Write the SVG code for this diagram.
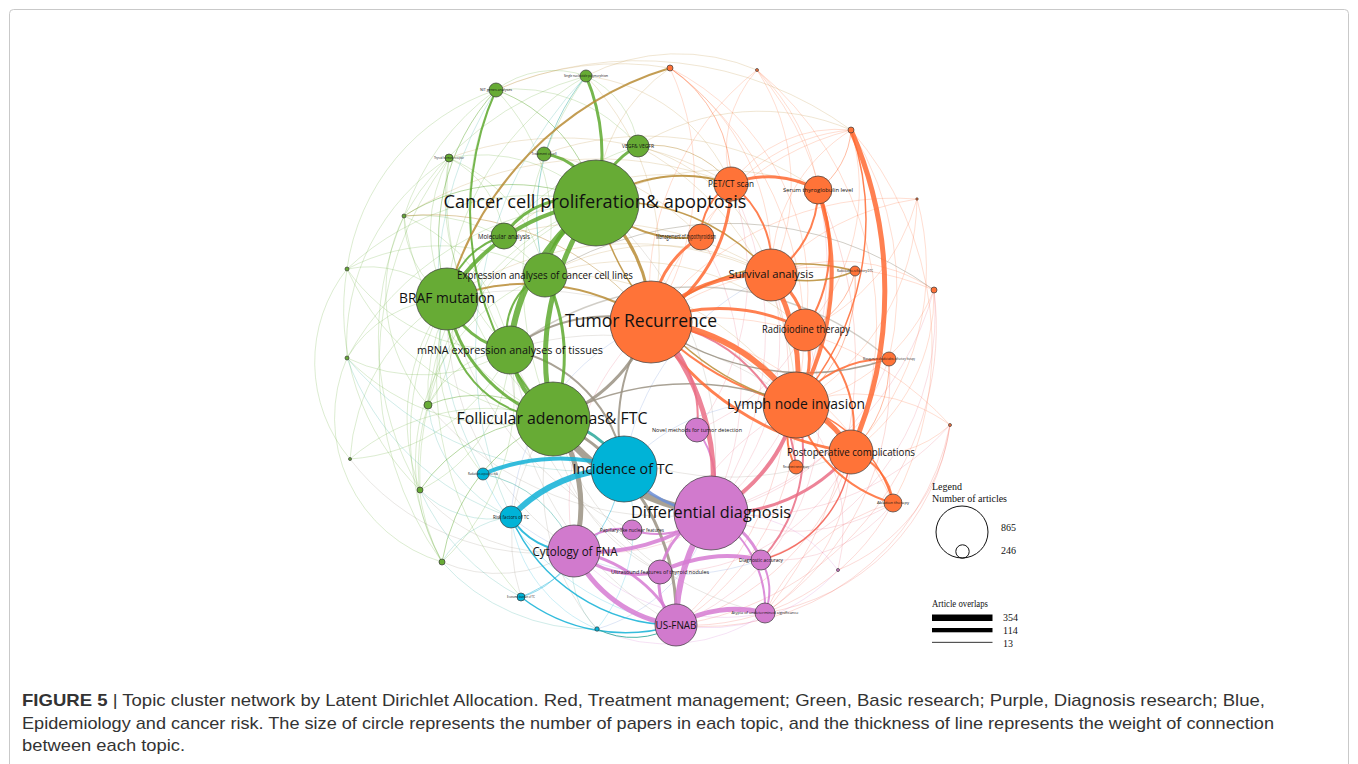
<svg xmlns="http://www.w3.org/2000/svg" width="1358" height="764" viewBox="0 0 1358 764">
<style>
.e path{fill:none;stroke-linecap:round;stroke-opacity:.85}
.g{stroke:#5ea92f}.o{stroke:#ff6a33}.p{stroke:#d67bd2}.b{stroke:#10b0d6}.y{stroke:#9a9282}.n{stroke:#b98c35}.k{stroke:#ea6e86}.t{stroke:#2aa79a}.r{stroke:#f25a4e}.l{stroke:#6b8fd8}
.w1{stroke-width:1}.w15{stroke-width:1.5}.w2{stroke-width:2}.w3{stroke-width:3}.w4{stroke-width:4}.w5{stroke-width:5}.w6{stroke-width:6}.w7{stroke-width:7}
.e path.a{stroke-opacity:.22}.e path.c{stroke-opacity:.45}
.nd circle{stroke:#3a3a3a;stroke-width:.7}
.ng{fill:#67ab35}.no{fill:#ff7338}.np{fill:#d17acd}.nb{fill:#00b3d7}
.lb{font-family:"Open Sans","Liberation Sans",sans-serif;fill:#111;text-anchor:middle}
.lg{font-family:"Liberation Serif","Times New Roman",serif;font-size:10px;fill:#111}
.cap{font-family:"Liberation Sans",Arial,sans-serif;font-size:17px;fill:#333}
</style>
<rect width="1358" height="764" fill="#fff"/>
<rect x="9.5" y="9.5" width="1339" height="770" rx="4" fill="none" stroke="#c9c9c9"/>
<g id="connectors" class="e">
<!-- faint green periphery -->
<path class="g w1 a" d="M449 158A160 160 0 0 1 596 203"/>
<path class="g w1 a" d="M449 158A150 150 0 0 0 447 299"/>
<path class="g w1 a" d="M449 158A160 160 0 0 1 545 275"/>
<path class="g w1 a" d="M449 158A210 210 0 0 0 510 350"/>
<path class="g w1 a" d="M449 158A290 290 0 0 0 553 419"/>
<path class="g w1 a" d="M449 158A100 100 0 0 1 504 236"/>
<path class="g w1 c" d="M404 216A200 200 0 0 1 596 203"/>
<path class="g w1 a" d="M404 216A100 100 0 0 0 447 299"/>
<path class="g w1 a" d="M404 216A180 180 0 0 1 510 350"/>
<path class="g w1 a" d="M404 216A260 260 0 0 0 553 419"/>
<path class="g w1 a" d="M404 216A160 160 0 0 1 545 275"/>
<path class="n w1 c" d="M404 216A280 280 0 0 1 651 322"/>
<path class="g w1 a" d="M347 269A110 110 0 0 1 447 299"/>
<path class="g w1 a" d="M347 269A270 270 0 0 1 596 203"/>
<path class="g w1 a" d="M347 269A190 190 0 0 0 510 350"/>
<path class="g w1 a" d="M347 269A260 260 0 0 0 553 419"/>
<path class="g w1 a" d="M347 269A200 200 0 0 1 545 275"/>
<path class="g w1 a" d="M347 358A120 120 0 0 1 447 299"/>
<path class="g w1 a" d="M347 358A170 170 0 0 0 510 350"/>
<path class="g w1 a" d="M347 358A220 220 0 0 0 553 419"/>
<path class="g w1 a" d="M347 358A300 300 0 0 1 596 203"/>
<path class="t w1 a" d="M347 358A310 310 0 0 0 624 469"/>
<path class="g w1 c" d="M428 405A130 130 0 0 1 553 419"/>
<path class="g w1 a" d="M428 405A100 100 0 0 1 510 350"/>
<path class="g w1 a" d="M428 405A110 110 0 0 0 447 299"/>
<path class="g w1 a" d="M428 405A260 260 0 0 1 596 203"/>
<path class="y w1 a" d="M428 405A310 310 0 0 0 711 513"/>
<path class="t w1 a" d="M428 405A140 140 0 0 0 511 517"/>
<path class="g w1 a" d="M350 459A210 210 0 0 1 553 419"/>
<path class="g w1 a" d="M350 459A200 200 0 0 1 447 299"/>
<path class="g w1 a" d="M350 459A190 190 0 0 0 510 350"/>
<path class="g w1 c" d="M420 490A160 160 0 0 1 553 419"/>
<path class="g w1 a" d="M420 490A200 200 0 0 1 447 299"/>
<path class="t w1 a" d="M420 490A100 100 0 0 0 511 517"/>
<path class="y w1 a" d="M420 490A170 170 0 0 0 574 551"/>
<path class="g w1 a" d="M420 490A160 160 0 0 0 510 350"/>
<path class="g w1 c" d="M442 562A190 190 0 0 1 553 419"/>
<path class="g w1 a" d="M442 562A270 270 0 0 1 447 299"/>
<path class="y w1 a" d="M442 562A140 140 0 0 0 574 551"/>
<path class="t w1 a" d="M442 562A90 90 0 0 1 511 517"/>
<path class="g w1 a" d="M442 562A230 230 0 0 0 510 350"/>
<path class="g w1 c" d="M496 90A155 155 0 0 1 596 203"/>
<path class="g w1 c" d="M496 90A220 220 0 0 0 447 299"/>
<path class="g w1 a" d="M496 90A195 195 0 0 1 545 275"/>
<path class="g w1 a" d="M496 90A270 270 0 0 0 510 350"/>
<path class="g w1 a" d="M496 90A160 160 0 0 1 638 146"/>
<path class="g w1 a" d="M496 90A95 95 0 0 1 586 76"/>
<path class="g w1 a" d="M586 76A90 90 0 0 1 638 146"/>
<path class="n w1 a" d="M586 76A260 260 0 0 1 651 322"/>
<path class="g w1 a" d="M586 76A350 350 0 0 0 553 419"/>
<path class="g w1 a" d="M586 76A280 280 0 0 0 447 299"/>
<path class="t w1 c" d="M586 76A220 220 0 0 0 545 275"/>
<path class="g w1 a" d="M404 216A170 170 0 0 0 428 405"/>
<path class="g w1 a" d="M347 269A150 150 0 0 0 350 459"/>
<path class="g w1 a" d="M347 358A150 150 0 0 0 442 562"/>
<path class="g w1 a" d="M347 269A250 250 0 0 0 420 490"/>
<path class="g w1 a" d="M449 158A220 220 0 0 0 347 358"/>
<path class="g w1 a" d="M496 90A250 250 0 0 0 404 216"/>
<path class="g w1 a" d="M496 90A220 220 0 0 0 347 269"/>
<path class="y w1 a" d="M350 459A240 240 0 0 0 574 551"/>
<path class="t w1 a" d="M347 358A260 260 0 0 0 511 517"/>
<path class="g w1 a" d="M404 216A300 300 0 0 0 420 490"/>
<path class="g w1 a" d="M449 158A340 340 0 0 0 442 562"/>
<path class="g w1 a" d="M428 405A200 200 0 0 0 442 562"/>
<path class="g w1 a" d="M545 275A200 200 0 0 0 442 562"/>
<path class="g w1 a" d="M596 203A300 300 0 0 0 420 490"/>
<path class="g w1 a" d="M638 146A300 300 0 0 0 428 405"/>
<path class="g w1 a" d="M586 76A300 300 0 0 0 404 216"/>
<path class="g w1 a" d="M504 236A200 200 0 0 0 428 405"/>
<path class="t w1 a" d="M586 76A400 400 0 0 0 511 517"/>
<path class="t w1 a" d="M496 90A380 380 0 0 0 483 474"/>
<!-- faint orange periphery -->
<path class="o w1 a" d="M851 130A280 280 0 0 0 651 322"/>
<path class="o w1 a" d="M851 130A170 170 0 0 0 771 275"/>
<path class="o w1 c" d="M851 130A80 80 0 0 1 818 190"/>
<path class="o w1 a" d="M851 130A130 130 0 0 0 731 184"/>
<path class="o w1 a" d="M851 130A210 210 0 0 1 805 330"/>
<path class="o w1 a" d="M851 130A180 180 0 0 0 701 237"/>
<path class="o w1 a" d="M934 290A190 190 0 0 1 796 405"/>
<path class="o w1 a" d="M934 290A290 290 0 0 0 651 322"/>
<path class="o w1 a" d="M934 290A170 170 0 0 0 771 275"/>
<path class="o w1 a" d="M934 290A190 190 0 0 1 851 452"/>
<path class="k w1 a" d="M934 290A320 320 0 0 1 711 513"/>
<path class="o w1 a" d="M757 70A280 280 0 0 0 651 322"/>
<path class="o w1 a" d="M757 70A210 210 0 0 1 771 275"/>
<path class="o w1 a" d="M757 70A120 120 0 0 0 731 184"/>
<path class="o w1 a" d="M950 425A160 160 0 0 0 796 405"/>
<path class="o w1 a" d="M950 425A330 330 0 0 0 651 322"/>
<path class="o w1 a" d="M950 425A110 110 0 0 1 851 452"/>
<path class="k w1 a" d="M950 425A270 270 0 0 1 711 513"/>
<path class="o w1 a" d="M917 199A300 300 0 0 0 651 322"/>
<path class="o w1 a" d="M917 199A240 240 0 0 1 796 405"/>
<path class="o w1 a" d="M670 68A260 260 0 0 1 651 322"/>
<path class="o w1 c" d="M670 68A135 135 0 0 1 731 184"/>
<path class="o w1 a" d="M670 68A235 235 0 0 1 771 275"/>
<path class="n w1 a" d="M670 68A170 170 0 0 0 596 203"/>
<path class="k w1 a" d="M889 359A240 240 0 0 1 711 513"/>
<path class="o w1 c" d="M889 359A120 120 0 0 1 851 452"/>
<path class="o w1 a" d="M893 503A310 310 0 0 0 651 322"/>
<path class="k w1 a" d="M893 503A190 190 0 0 1 711 513"/>
<path class="k w1 a" d="M893 503A150 150 0 0 1 761 560"/>
<path class="o w1 c" d="M855 271A155 155 0 0 1 796 405"/>
<path class="o w1 c" d="M855 271A80 80 0 0 1 805 330"/>
<path class="k w1 a" d="M934 290A260 260 0 0 1 761 560"/>
<path class="r w1 a" d="M934 290A300 300 0 0 1 676 625"/>
<path class="r w1 a" d="M950 425A220 220 0 0 1 765 613"/>
<path class="r w1 a" d="M950 425A250 250 0 0 1 676 625"/>
<path class="o w1 a" d="M917 199A260 260 0 0 1 851 452"/>
<path class="o w1 a" d="M917 199A200 200 0 0 1 805 330"/>
<path class="o w1 a" d="M917 199A250 250 0 0 0 771 275"/>
<path class="o w1 a" d="M851 130A330 330 0 0 1 893 503"/>
<path class="o w1 a" d="M851 130A300 300 0 0 1 889 359"/>
<path class="o w1 a" d="M757 70A330 330 0 0 1 851 452"/>
<path class="o w1 a" d="M757 70A300 300 0 0 1 796 405"/>
<path class="o w1 a" d="M757 70A200 200 0 0 1 818 190"/>
<path class="o w1 a" d="M670 68A330 330 0 0 1 796 405"/>
<path class="o w1 a" d="M670 68A250 250 0 0 1 805 330"/>
<path class="k w1 a" d="M818 190A320 320 0 0 1 711 513"/>
<path class="k w1 a" d="M771 275A250 250 0 0 1 711 513"/>
<path class="k w1 a" d="M805 330A230 230 0 0 1 676 625"/>
<path class="r w1 a" d="M771 275A320 320 0 0 1 676 625"/>
<path class="k w1 a" d="M731 184A330 330 0 0 1 711 513"/>
<path class="k w1 a" d="M701 237A290 290 0 0 1 711 513"/>
<path class="r w1 a" d="M818 190A400 400 0 0 1 765 613"/>
<path class="r w1 a" d="M893 503A230 230 0 0 1 676 625"/>
<path class="r w1 a" d="M889 359A280 280 0 0 1 765 613"/>
<path class="k w1 a" d="M851 452A200 200 0 0 1 660 572"/>
<path class="k w1 a" d="M796 405A200 200 0 0 1 574 551"/>
<path class="k w1 a" d="M805 330A210 210 0 0 1 697 430"/>
<path class="k w1 a" d="M731 184A260 260 0 0 1 697 430"/>
<path class="r w1 a" d="M893 503A200 200 0 0 0 765 613"/>
<path class="r w1 a" d="M950 425A180 180 0 0 1 838 570"/>
<!-- faint purple / blue periphery -->
<path class="p w1 a" d="M838 570A140 140 0 0 0 711 513"/>
<path class="p w1 a" d="M838 570A175 175 0 0 1 676 625"/>
<path class="k w1 a" d="M838 570A180 180 0 0 0 796 405"/>
<path class="t w1 a" d="M597 629A85 85 0 0 1 574 551"/>
<path class="l w1 a" d="M597 629A165 165 0 0 0 711 513"/>
<path class="y w1 a" d="M597 629A220 220 0 0 1 553 419"/>
<path class="b w1 a" d="M597 629A165 165 0 0 0 624 469"/>
<path class="b w1 a" d="M597 629A140 140 0 0 1 511 517"/>
<path class="b w1 c" d="M521 597A80 80 0 0 0 574 551"/>
<path class="b w1 c" d="M521 597A170 170 0 0 0 624 469"/>
<path class="y w1 a" d="M521 597A190 190 0 0 1 553 419"/>
<path class="g w1 a" d="M521 597A320 320 0 0 1 447 299"/>
<path class="t w1 c" d="M483 474A120 120 0 0 1 574 551"/>
<path class="g w1 a" d="M483 474A185 185 0 0 1 447 299"/>
<path class="t w1 a" d="M442 562A200 200 0 0 0 597 629"/>
<path class="t w1 a" d="M420 490A220 220 0 0 0 521 597"/>
<path class="p w1 a" d="M597 629A170 170 0 0 0 765 613"/>
<path class="p w1 a" d="M574 551A200 200 0 0 0 765 613"/>
<path class="b w1 a" d="M483 474A260 260 0 0 0 676 625"/>
<path class="l w1 a" d="M511 517A260 260 0 0 0 761 560"/>
<path class="y w1 a" d="M553 419A280 280 0 0 0 765 613"/>
<path class="y w1 a" d="M510 350A330 330 0 0 0 660 572"/>
<path class="y w1 a" d="M447 299A330 330 0 0 0 632 530"/>
<!-- faint cross-cluster -->
<path class="n w1 a" d="M447 299A330 330 0 0 1 771 275"/>
<path class="y w1 a" d="M447 299A370 370 0 0 1 796 405"/>
<path class="n w1 a" d="M545 275A280 280 0 0 1 796 405"/>
<path class="y w1 a" d="M510 350A260 260 0 0 0 711 513"/>
<path class="y w1 a" d="M510 350A320 320 0 0 0 676 625"/>
<path class="y w1 a" d="M596 203A330 330 0 0 1 711 513"/>
<path class="n w1 a" d="M545 275A230 230 0 0 1 771 275"/>
<path class="n w1 a" d="M504 236A240 240 0 0 1 731 184"/>
<path class="n w1 c" d="M638 146A100 100 0 0 1 731 184"/>
<path class="n w1 a" d="M638 146A190 190 0 0 1 771 275"/>
<path class="n w1 a" d="M586 76A180 180 0 0 1 731 184"/>
<path class="n w1 a" d="M496 90A360 360 0 0 1 851 130"/>
<path class="y w1 a" d="M510 350A300 300 0 0 1 796 405"/>
<path class="y w1 a" d="M447 299A290 290 0 0 0 574 551"/>
<path class="y w1 a" d="M553 419A190 190 0 0 0 660 572"/>
<path class="l w1 a" d="M624 469A190 190 0 0 1 796 405"/>
<path class="l w1 a" d="M624 469A250 250 0 0 1 771 275"/>
<path class="k w1 a" d="M574 551A240 240 0 0 1 651 322"/>
<path class="k w1 a" d="M660 572A270 270 0 0 1 796 405"/>
<path class="r w1 a" d="M676 625A255 255 0 0 0 851 452"/>
<path class="r w1 a" d="M765 613A195 195 0 0 0 851 452"/>
<path class="r w1 a" d="M676 625A250 250 0 0 0 796 405"/>
<path class="l w1 a" d="M511 517A225 225 0 0 1 651 322"/>
<path class="y w1 a" d="M553 419A300 300 0 0 0 851 452"/>
<path class="y w1 c" d="M934 290A350 350 0 0 0 545 275"/>
<path class="y w15 c" d="M889 359A300 300 0 0 0 510 350"/>
<path class="n w1 a" d="M496 90A300 300 0 0 1 670 68"/>
<path class="n w1 a" d="M586 76A200 200 0 0 1 757 70"/>
<path class="n w1 a" d="M638 146A230 230 0 0 1 851 130"/>
<path class="n w1 a" d="M544 154A300 300 0 0 1 818 190"/>
<path class="n w1 a" d="M449 158A330 330 0 0 1 731 184"/>
<path class="n w1 a" d="M504 236A320 320 0 0 1 771 275"/>
<path class="n w1 a" d="M545 275A260 260 0 0 1 805 330"/>
<path class="n w1 a" d="M596 203A250 250 0 0 1 818 190"/>
<path class="n w1 a" d="M638 146A300 300 0 0 1 796 405"/>
<path class="n w1 a" d="M544 154A280 280 0 0 1 701 237"/>
<path class="n w1 a" d="M404 216A360 360 0 0 1 731 184"/>
<!-- medium -->
<path class="o w2" d="M651 322A300 300 0 0 0 796 405"/>
<path class="o w3" d="M771 275A70 70 0 0 1 805 330"/>
<path class="o w2" d="M805 330A120 120 0 0 1 851 452"/>
<path class="o w2" d="M771 275A100 100 0 0 0 731 184"/>
<path class="o w2" d="M731 184A60 60 0 0 0 701 237"/>
<path class="o w2" d="M818 190A150 150 0 0 1 805 330"/>
<path class="k w2" d="M651 322A160 160 0 0 1 796 467"/>
<path class="k w2" d="M796 405A160 160 0 0 1 761 560"/>
<path class="r w15" d="M851 452A120 120 0 0 1 761 560"/>
<path class="k w2" d="M651 322A120 120 0 0 1 697 430"/>
<path class="p w2" d="M697 430A90 90 0 0 1 711 513"/>
<path class="p w2" d="M632 530A60 60 0 0 0 574 551"/>
<path class="p w2" d="M632 530A80 80 0 0 0 711 513"/>
<path class="p w3" d="M574 551A140 140 0 0 1 676 625"/>
<path class="p w2" d="M761 560A60 60 0 0 1 765 613"/>
<path class="p w2" d="M711 513A110 110 0 0 1 765 613"/>
<path class="b w2" d="M511 517A70 70 0 0 0 574 551"/>
<path class="b w15" d="M511 517A180 180 0 0 0 676 625"/>
<path class="b w15" d="M521 597A170 170 0 0 0 676 625"/>
<path class="t w1" d="M597 629A80 80 0 0 0 676 625"/>
<path class="y w3" d="M553 419A220 220 0 0 1 676 625"/>
<path class="g w2" d="M553 419A110 110 0 0 1 447 299"/>
<path class="y w2" d="M510 350A140 140 0 0 1 624 469"/>
<path class="g w2" d="M447 299A80 80 0 0 1 504 236"/>
<path class="g w2" d="M545 275A60 60 0 0 0 510 350"/>
<path class="n w2" d="M447 299A220 220 0 0 1 651 322"/>
<path class="y w2" d="M510 350A160 160 0 0 1 651 322"/>
<path class="y w15" d="M553 419A280 280 0 0 1 796 405"/>
<path class="n w15" d="M596 203A200 200 0 0 1 771 275"/>
<path class="n w15" d="M596 203A280 280 0 0 0 796 405"/>
<path class="y w15" d="M889 359A260 260 0 0 1 651 322"/>
<path class="n w15" d="M855 271A120 120 0 0 1 771 275"/>
<path class="n w15" d="M855 271A220 220 0 0 0 651 322"/>
<path class="o w2" d="M889 359A110 110 0 0 0 796 405"/>
<path class="o w15" d="M893 503A140 140 0 0 0 796 405"/>
<path class="o w15" d="M851 130A280 280 0 0 1 796 405"/>
<!-- heavy -->
<path class="o w6" d="M651 322A190 190 0 0 1 796 405"/>
<path class="o w4" d="M651 322A150 150 0 0 1 771 275"/>
<path class="o w5" d="M771 275A200 200 0 0 1 796 405"/>
<path class="o w5" d="M796 405A90 90 0 0 1 851 452"/>
<path class="o w3" d="M731 184A100 100 0 0 1 818 190"/>
<path class="o w4" d="M818 190A260 260 0 0 1 796 405"/>
<path class="o w5" d="M851 130A400 400 0 0 1 851 452"/>
<path class="o w3" d="M651 322A280 280 0 0 0 851 452"/>
<path class="o w3" d="M651 322A180 180 0 0 1 805 330"/>
<path class="o w3" d="M805 330A90 90 0 0 1 796 405"/>
<path class="k w5" d="M651 322A230 230 0 0 1 711 513"/>
<path class="k w4" d="M796 405A160 160 0 0 1 711 513"/>
<path class="k w3" d="M851 452A170 170 0 0 1 711 513"/>
<path class="g w6" d="M596 203A200 200 0 0 0 510 350"/>
<path class="g w5" d="M596 203A260 260 0 0 0 553 419"/>
<path class="g w4" d="M596 203A200 200 0 0 0 447 299"/>
<path class="g w4" d="M596 203A100 100 0 0 0 545 275"/>
<path class="g w3" d="M596 203A80 80 0 0 1 638 146"/>
<path class="g w3" d="M447 299A150 150 0 0 0 553 419"/>
<path class="g w4" d="M510 350A100 100 0 0 0 553 419"/>
<path class="g w3" d="M545 275A180 180 0 0 1 553 419"/>
<path class="g w3" d="M447 299A80 80 0 0 0 510 350"/>
<path class="y w7" d="M553 419A220 220 0 0 0 711 513"/>
<path class="y w5" d="M553 419A150 150 0 0 1 574 551"/>
<path class="t w3" d="M553 419A100 100 0 0 1 624 469"/>
<path class="b w6" d="M511 517A150 150 0 0 1 624 469"/>
<path class="b w4" d="M483 474A200 200 0 0 1 624 469"/>
<path class="l w3" d="M624 469A120 120 0 0 0 711 513"/>
<path class="p w5" d="M574 551A130 130 0 0 0 676 625"/>
<path class="p w6" d="M711 513A200 200 0 0 0 676 625"/>
<path class="p w4" d="M711 513A200 200 0 0 1 574 551"/>
<path class="p w5" d="M676 625A120 120 0 0 1 765 613"/>
<path class="p w4" d="M660 572A150 150 0 0 1 761 560"/>
<path class="p w3" d="M711 513A80 80 0 0 0 660 572"/>
<path class="p w3" d="M711 513A80 80 0 0 1 761 560"/>
<path class="p w3" d="M574 551A100 100 0 0 0 660 572"/>
<path class="p w3" d="M676 625A60 60 0 0 1 660 572"/>
<path class="n w3" d="M596 203A160 160 0 0 1 651 322"/>
<path class="y w3" d="M553 419A160 160 0 0 0 651 322"/>
<path class="y w2" d="M651 322A180 180 0 0 0 624 469"/>
<path class="n w2" d="M596 203A150 150 0 0 1 731 184"/>
<path class="n w2" d="M596 203A130 130 0 0 0 701 237"/>
<path class="o w3" d="M651 322A100 100 0 0 1 701 237"/>
<path class="o w3" d="M651 322A160 160 0 0 0 731 184"/>
<path class="o w2" d="M771 275A100 100 0 0 0 818 190"/>
<path class="o w2" d="M796 405A140 140 0 0 0 893 503"/>
<path class="o w2" d="M851 452A60 60 0 0 1 893 503"/>
<path class="o w2" d="M796 467A60 60 0 0 1 796 405"/>
<path class="g w3" d="M544 154A60 60 0 0 1 596 203"/>
<path class="g w3" d="M504 236A80 80 0 0 1 596 203"/>
<path class="g w2" d="M496 90A300 300 0 0 0 553 419"/>
<path class="g w3" d="M586 76A200 200 0 0 1 596 203"/>
<path class="n w2" d="M670 68A330 330 0 0 0 447 299"/>
</g>
<!-- small nodes -->
<g id="n-g11" class="nd"><circle class="ng" cx="449" cy="158" r="4"/><text class="lb" x="449" y="159" font-size="3" textLength="30" lengthAdjust="spacingAndGlyphs">Thyroid hormone receptor</text></g>
<g id="n-g12" class="nd"><circle class="ng" cx="404" cy="216" r="2"/></g>
<g id="n-g13" class="nd"><circle class="ng" cx="347" cy="269" r="2"/></g>
<g id="n-g14" class="nd"><circle class="ng" cx="347" cy="358" r="2"/></g>
<g id="n-g15" class="nd"><circle class="ng" cx="428" cy="405" r="4"/></g>
<g id="n-g16" class="nd"><circle class="ng" cx="350" cy="459" r="1.5"/></g>
<g id="n-g17" class="nd"><circle class="ng" cx="420" cy="490" r="3"/></g>
<g id="n-g18" class="nd"><circle class="ng" cx="442" cy="562" r="3"/></g>
<g id="n-nit" class="nd"><circle class="ng" cx="496" cy="90" r="7"/><text class="lb" x="496" y="91.2" font-size="3.5" textLength="32" lengthAdjust="spacingAndGlyphs">NIT genes analyses</text></g>
<g id="n-snp" class="nd"><circle class="ng" cx="586" cy="76" r="6"/><text class="lb" x="586" y="77.2" font-size="3.5" textLength="44" lengthAdjust="spacingAndGlyphs">Single nucleotide polymorphism</text></g>
<g id="n-treat" class="nd"><circle class="ng" cx="544" cy="154" r="7"/><text class="lb" x="544" y="155.2" font-size="3.5" textLength="25" lengthAdjust="spacingAndGlyphs">Treatment of cell</text></g>
<g id="n-vegf" class="nd"><circle class="ng" cx="638" cy="146" r="11"/><text class="lb" x="638" y="147.8" font-size="5" textLength="32" lengthAdjust="spacingAndGlyphs">VEGF&amp; VEGFR</text></g>
<g id="n-b3" class="nd"><circle class="nb" cx="483" cy="474" r="6"/><text class="lb" x="483" y="475" font-size="3" textLength="30" lengthAdjust="spacingAndGlyphs">Radiation exposure risk</text></g>
<g id="n-b4" class="nd"><circle class="nb" cx="521" cy="597" r="4"/><text class="lb" x="521" y="598" font-size="3" textLength="28" lengthAdjust="spacingAndGlyphs">Economic burden of TC</text></g>
<g id="n-b5" class="nd"><circle class="nb" cx="597" cy="629" r="2.2"/></g>
<g id="n-p9" class="nd"><circle class="np" cx="838" cy="570" r="1.5"/></g>
<g id="n-o13" class="nd"><circle class="no" cx="934" cy="290" r="3"/></g>
<g id="n-o14" class="nd"><circle class="no" cx="851" cy="130" r="3"/></g>
<g id="n-o15" class="nd"><circle class="no" cx="670" cy="68" r="3"/></g>
<g id="n-o16" class="nd"><circle class="no" cx="757" cy="70" r="1.5"/></g>
<g id="n-o17" class="nd"><circle class="no" cx="950" cy="425" r="1.5"/></g>
<g id="n-o18" class="nd"><circle class="no" cx="917" cy="199" r="1.2"/></g>
<g id="n-o11" class="nd"><circle class="no" cx="855" cy="271" r="5"/><text class="lb" x="855" y="272" font-size="3" textLength="36" lengthAdjust="spacingAndGlyphs">Radioiodine-refractory DTC</text></g>
<g id="n-o12" class="nd"><circle class="no" cx="889" cy="359" r="7"/><text class="lb" x="889" y="360" font-size="3" textLength="52" lengthAdjust="spacingAndGlyphs">Management of radioiodine-refractory therapy</text></g>
<g id="n-nerve" class="nd"><circle class="no" cx="796" cy="467" r="7"/><text class="lb" x="796" y="468.2" font-size="3.5" textLength="26" lengthAdjust="spacingAndGlyphs">Recurrent nerve injury</text></g>
<g id="n-ablation" class="nd"><circle class="no" cx="893" cy="503" r="9"/><text class="lb" x="893" y="504.4" font-size="4" textLength="32" lengthAdjust="spacingAndGlyphs">Ablation therapy</text></g>
<!-- medium / large nodes -->
<g id="n-molecular" class="nd"><circle class="ng" cx="504" cy="236" r="13"/><text class="lb" x="504" y="238.5" font-size="7" textLength="52" lengthAdjust="spacingAndGlyphs">Molecular analysis</text></g>
<g id="n-braf" class="nd"><circle class="ng" cx="447" cy="299" r="31"/><text class="lb" x="447" y="303" font-size="14" textLength="96" lengthAdjust="spacingAndGlyphs">BRAF mutation</text></g>
<g id="n-expression" class="nd"><circle class="ng" cx="545" cy="275" r="22"/><text class="lb" x="545" y="278.5" font-size="10" textLength="176" lengthAdjust="spacingAndGlyphs">Expression analyses of cancer cell lines</text></g>
<g id="n-mrna" class="nd"><circle class="ng" cx="510" cy="350" r="24"/><text class="lb" x="510" y="354" font-size="11" textLength="186" lengthAdjust="spacingAndGlyphs">mRNA expression analyses of tissues</text></g>
<g id="n-pet" class="nd"><circle class="no" cx="731" cy="184" r="17"/><text class="lb" x="731" y="186.5" font-size="9" textLength="46" lengthAdjust="spacingAndGlyphs">PET/CT scan</text></g>
<g id="n-cancer" class="nd"><circle class="ng" cx="596" cy="203" r="43"/><text class="lb" x="595" y="208" font-size="19" textLength="303" lengthAdjust="spacingAndGlyphs">Cancer cell proliferation&amp; apoptosis</text></g>
<g id="n-follicular" class="nd"><circle class="ng" cx="553" cy="419" r="37"/><text class="lb" x="552" y="424" font-size="17" textLength="191" lengthAdjust="spacingAndGlyphs">Follicular adenomas&amp; FTC</text></g>
<g id="n-risk" class="nd"><circle class="nb" cx="511" cy="517" r="11"/><text class="lb" x="511" y="518.5" font-size="4.5" textLength="36" lengthAdjust="spacingAndGlyphs">Risk factors of TC</text></g>
<g id="n-incidence" class="nd"><circle class="nb" cx="624" cy="469" r="33"/><text class="lb" x="623" y="474" font-size="14" textLength="101" lengthAdjust="spacingAndGlyphs">Incidence of TC</text></g>
<g id="n-papillary" class="nd"><circle class="np" cx="632" cy="530" r="10"/><text class="lb" x="632" y="531.5" font-size="4.5" textLength="64" lengthAdjust="spacingAndGlyphs">Papillary-like nuclear features</text></g>
<g id="n-novel" class="nd"><circle class="np" cx="697" cy="430" r="12"/><text class="lb" x="697" y="431.5" font-size="4.5" textLength="90" lengthAdjust="spacingAndGlyphs">Novel methods for tumor detection</text></g>
<g id="n-ultrasound" class="nd"><circle class="np" cx="660" cy="572" r="12"/><text class="lb" x="660" y="573.7" font-size="5" textLength="98" lengthAdjust="spacingAndGlyphs">Ultrasound features of thyroid nodules</text></g>
<g id="n-diagacc" class="nd"><circle class="np" cx="761" cy="560" r="10"/><text class="lb" x="761" y="561.5" font-size="4.5" textLength="44" lengthAdjust="spacingAndGlyphs">Diagnostic accuracy</text></g>
<g id="n-atypia" class="nd"><circle class="np" cx="765" cy="613" r="10"/><text class="lb" x="765" y="614.4" font-size="4" textLength="67" lengthAdjust="spacingAndGlyphs">Atypia of undetermined significance</text></g>
<g id="n-usfnab" class="nd"><circle class="np" cx="676" cy="625" r="21"/><text class="lb" x="676" y="629" font-size="11" textLength="41" lengthAdjust="spacingAndGlyphs">US-FNAB</text></g>
<g id="n-cytology" class="nd"><circle class="np" cx="574" cy="551" r="26"/><text class="lb" x="575" y="555.5" font-size="13" textLength="85" lengthAdjust="spacingAndGlyphs">Cytology of FNA</text></g>
<g id="n-differential" class="nd"><circle class="np" cx="711" cy="513" r="37"/><text class="lb" x="711" y="518" font-size="16" textLength="160" lengthAdjust="spacingAndGlyphs">Differential diagnosis</text></g>
<g id="n-mgmt" class="nd"><circle class="no" cx="701" cy="237" r="13"/><text class="lb" x="686" y="239.2" font-size="6.5" textLength="60" lengthAdjust="spacingAndGlyphs">Management of hypothyroidism</text></g>
<g id="n-serum" class="nd"><circle class="no" cx="818" cy="190" r="14"/><text class="lb" x="818" y="192" font-size="6" textLength="70" lengthAdjust="spacingAndGlyphs">Serum thyroglobulin level</text></g>
<g id="n-survival" class="nd"><circle class="no" cx="771" cy="275" r="26"/><text class="lb" x="771" y="278" font-size="11" textLength="85" lengthAdjust="spacingAndGlyphs">Survival analysis</text></g>
<g id="n-radioiodine" class="nd"><circle class="no" cx="805" cy="330" r="21"/><text class="lb" x="806" y="332.5" font-size="10" textLength="88" lengthAdjust="spacingAndGlyphs">Radioiodine therapy</text></g>
<g id="n-lymph" class="nd"><circle class="no" cx="796" cy="405" r="33"/><text class="lb" x="796" y="409" font-size="14" textLength="138" lengthAdjust="spacingAndGlyphs">Lymph node invasion</text></g>
<g id="n-postop" class="nd"><circle class="no" cx="851" cy="452" r="22"/><text class="lb" x="851" y="455.5" font-size="10" textLength="128" lengthAdjust="spacingAndGlyphs">Postoperative complications</text></g>
<g id="n-tumor" class="nd"><circle class="no" cx="651" cy="322" r="41"/><text class="lb" x="641" y="327" font-size="19" textLength="152" lengthAdjust="spacingAndGlyphs">Tumor Recurrence</text></g>
<!-- legend -->
<g id="legend">
<text class="lg" x="932" y="489.5">Legend</text>
<text class="lg" x="932" y="502" textLength="75" lengthAdjust="spacingAndGlyphs">Number of articles</text>
<circle cx="962" cy="532" r="26" fill="none" stroke="#111" stroke-width="1"/>
<circle cx="962.5" cy="551.5" r="6.7" fill="none" stroke="#111" stroke-width="1"/>
<text class="lg" x="1001" y="531">865</text>
<text class="lg" x="1001" y="554">246</text>
<text class="lg" x="932" y="607" textLength="56" lengthAdjust="spacingAndGlyphs">Article overlaps</text>
<rect x="932" y="614.5" width="60.5" height="6.5" fill="#000"/>
<rect x="932" y="628" width="60.5" height="4.3" fill="#000"/>
<rect x="932" y="641.8" width="60.5" height="1.2" fill="#555"/>
<text class="lg" x="1003" y="621">354</text>
<text class="lg" x="1003" y="634">114</text>
<text class="lg" x="1003" y="646.5">13</text>
</g>
<!-- caption -->
<g id="caption">
<text class="cap" x="22" y="706" textLength="1243" lengthAdjust="spacingAndGlyphs"><tspan font-weight="bold">FIGURE 5</tspan> | Topic cluster network by Latent Dirichlet Allocation. Red, Treatment management; Green, Basic research; Purple, Diagnosis research; Blue,</text>
<text class="cap" x="22" y="729" textLength="1252" lengthAdjust="spacingAndGlyphs">Epidemiology and cancer risk. The size of circle represents the number of papers in each topic, and the thickness of line represents the weight of connection</text>
<text class="cap" x="22" y="751" textLength="163" lengthAdjust="spacingAndGlyphs">between each topic.</text>
</g>
</svg>
